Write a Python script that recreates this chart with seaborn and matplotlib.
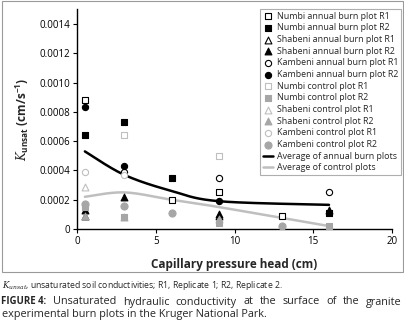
import matplotlib
matplotlib.use("Agg")
import matplotlib.pyplot as plt
from matplotlib.patches import Rectangle
import seaborn as sns
import numpy as np

sns.set_style("white")
plt.rcParams['font.family'] = ['Open Sans', 'DejaVu Sans']
plt.rcParams['mathtext.fontset'] = 'custom'
plt.rcParams['mathtext.it'] = 'DejaVu Serif:italic'
plt.rcParams['mathtext.rm'] = 'Open Sans'

# series values: (capillary head cm, K unsat cm/s)
numbi_ann_r1_x = [0.5, 6, 9, 13]
numbi_ann_r1_y = [0.00088, 0.00020, 0.00025, 0.00009]
numbi_ann_r2_x = [0.5, 3, 6, 16]
numbi_ann_r2_y = [0.00064, 0.00073, 0.00035, 0.00011]
shab_ann_r1_x = [0.5, 9]
shab_ann_r1_y = [0.00009, 0.00009]
shab_ann_r2_x = [0.5, 3, 9, 16]
shab_ann_r2_y = [0.00013, 0.00022, 0.00010, 0.00013]
kamb_ann_r1_x = [3, 9, 16]
kamb_ann_r1_y = [0.00039, 0.00035, 0.00025]
kamb_ann_r2_x = [0.5, 3, 9]
kamb_ann_r2_y = [0.00083, 0.00043, 0.00019]
numbi_ctl_r1_x = [3, 9]
numbi_ctl_r1_y = [0.00064, 0.00050]
numbi_ctl_r2_x = [0.5, 3, 9, 16]
numbi_ctl_r2_y = [0.00015, 0.00008, 0.00004, 0.00002]
shab_ctl_r1_x = [0.5]
shab_ctl_r1_y = [0.00029]
shab_ctl_r2_x = [0.5, 3, 9]
shab_ctl_r2_y = [0.00009, 0.00008, 0.00007]
kamb_ctl_r1_x = [0.5, 3]
kamb_ctl_r1_y = [0.00039, 0.00037]
kamb_ctl_r2_x = [0.5, 3, 6, 13]
kamb_ctl_r2_y = [0.00017, 0.00016, 0.00011, 0.00002]

# averages (smoothed lines)
avg_ann_x = [0.5, 3, 6, 9, 16]
avg_ann_y = [0.00053, 0.00037, 0.00026, 0.00019, 0.000165]
avg_ctl_x = [0.5, 3, 6, 9, 16]
avg_ctl_y = [0.00022, 0.00025, 0.00020, 0.00015, 0.00002]


def smooth(xs, ys, n=40):
    """Catmull-Rom curve through the points, like an Excel smoothed line"""
    p = np.column_stack([xs, ys]).astype(float)
    p = np.vstack([p[0], p, p[-1]])
    out = []
    t = np.linspace(0, 1, n)
    for i in range(1, len(p) - 2):
        p0, p1, p2, p3 = p[i - 1], p[i], p[i + 1], p[i + 2]
        seg = 0.5 * ((2 * p1) + (-p0 + p2) * t[:, None]
                     + (2 * p0 - 5 * p1 + 4 * p2 - p3) * t[:, None] ** 2
                     + (-p0 + 3 * p1 - 3 * p2 + p3) * t[:, None] ** 3)
        out.append(seg)
    out = np.vstack(out)
    return out[:, 0], out[:, 1]


def justified(fig, text, x0, x1, y, **kw):
    """Spread the words of text between x0 and x1 (figure px)"""
    W = fig.bbox.width
    r = fig.canvas.get_renderer()
    arts = [fig.text(0, y, w, ha='left', va='center', **kw) for w in text.split()]
    widths = [a.get_window_extent(r).width for a in arts]
    gap = (x1 - x0 - sum(widths)) / (len(arts) - 1)
    x = x0
    for a, w in zip(arts, widths):
        a.set_x(x / W)
        x += w + gap


BLACK = '#000000'
GREY = '#a6a6a6'
LIGHT = '#bfbfbf'

series = [
    (numbi_ann_r1_x, numbi_ann_r1_y, 's', 'white', BLACK, 20, 'Numbi annual burn plot R1'),
    (numbi_ann_r2_x, numbi_ann_r2_y, 's', BLACK, BLACK, 20, 'Numbi annual burn plot R2'),
    (shab_ann_r1_x, shab_ann_r1_y, '^', 'white', BLACK, 24, 'Shabeni annual burn plot R1'),
    (shab_ann_r2_x, shab_ann_r2_y, '^', BLACK, BLACK, 24, 'Shabeni annual burn plot R2'),
    (kamb_ann_r1_x, kamb_ann_r1_y, 'o', 'white', BLACK, 20, 'Kambeni annual burn plot R1'),
    (kamb_ann_r2_x, kamb_ann_r2_y, 'o', BLACK, BLACK, 20, 'Kambeni annual burn plot R2'),
    (numbi_ctl_r1_x, numbi_ctl_r1_y, 's', 'white', LIGHT, 14, 'Numbi control plot R1'),
    (numbi_ctl_r2_x, numbi_ctl_r2_y, 's', GREY, GREY, 20, 'Numbi control plot R2'),
    (shab_ctl_r1_x, shab_ctl_r1_y, '^', 'white', LIGHT, 24, 'Shabeni control plot R1'),
    (shab_ctl_r2_x, shab_ctl_r2_y, '^', GREY, GREY, 24, 'Shabeni control plot R2'),
    (kamb_ctl_r1_x, kamb_ctl_r1_y, 'o', 'white', LIGHT, 20, 'Kambeni control plot R1'),
    (kamb_ctl_r2_x, kamb_ctl_r2_y, 'o', GREY, GREY, 26, 'Kambeni control plot R2'),
]

fig = plt.figure(figsize=(4.04, 3.25), dpi=100)
ax = fig.add_axes([0.1906, 0.2954, 0.7797, 0.6756])

# outer frame around chart
fig.patches.append(Rectangle((2 / 404, 1 - 272 / 325), 401 / 404, 271 / 325,
                             transform=fig.transFigure, fill=False,
                             edgecolor='#9a9a9a', lw=0.8))

sx, sy = smooth(avg_ann_x, avg_ann_y)
sns.lineplot(x=sx, y=sy, ax=ax, color=BLACK, lw=1.8, sort=False,
             label='Average of annual burn plots', zorder=2)
cx, cy = smooth(avg_ctl_x, avg_ctl_y)
sns.lineplot(x=cx, y=cy, ax=ax, color=LIGHT, lw=1.8, sort=False,
             label='Average of control plots', zorder=2)

for xs, ys, m, fc, ec, s, lab in series:
    sns.scatterplot(x=xs, y=ys, ax=ax, marker=m, s=s, color=fc,
                    edgecolor=ec, linewidth=0.8, label=lab, zorder=3)

ax.set_xlim(0, 20)
ax.set_ylim(0, 0.0015)
ax.set_xticks([0, 5, 10, 15, 20])
ax.set_yticks(np.arange(0, 0.00141, 0.0002))
ax.set_yticklabels(['0'] + ['%.4f' % v for v in np.arange(0.0002, 0.00141, 0.0002)])
for side in ['top', 'right']:
    ax.spines[side].set_visible(False)
for side in ['left', 'bottom']:
    ax.spines[side].set_color('black')
    ax.spines[side].set_linewidth(1.0)
ax.tick_params(axis='both', direction='out', length=3, width=0.8, labelsize=7,
               colors='black', pad=2, left=True, bottom=True)

ax.set_xlabel('Capillary pressure head (cm)', fontsize=8.5, fontweight='bold', labelpad=8)
ax.set_ylabel(r'$K_{\mathregular{unsat}}$ (cm/s$^{\mathregular{-1}}$)', fontsize=8.5,
              fontweight='bold', labelpad=6)

handles, labels = ax.get_legend_handles_labels()
order = labels[2:] + labels[:2]
hmap = dict(zip(labels, handles))
leg = ax.legend([hmap[l] for l in order], order, loc='upper right',
                bbox_to_anchor=(1.035, 1.012), fontsize=6.4, frameon=True,
                fancybox=False, edgecolor='#9a9a9a', borderpad=0.35,
                labelspacing=0.3, handlelength=1.1, handletextpad=0.4,
                borderaxespad=0.2, markerscale=1.0)
leg.get_frame().set_linewidth(0.8)

# caption
fig.text(0.005, 1 - 286 / 325, r'$K_{unsat}$, unsaturated soil conductivities; R1, Replicate 1; R2, Replicate 2.',
         fontsize=6.2, va='center', ha='left')
fig.text(0.003, 1 - 302 / 325, 'FIGURE 4:', fontsize=6.9, fontweight='bold',
         va='center', ha='left')
justified(fig, 'Unsaturated hydraulic conductivity at the surface of the granite',
          53, 402, 1 - 302 / 325, fontsize=7.8)
fig.text(0.005, 1 - 315 / 325, 'experimental burn plots in the Kruger National Park.',
         fontsize=7.8, va='center', ha='left')

fig.savefig('out.png', dpi=100)
